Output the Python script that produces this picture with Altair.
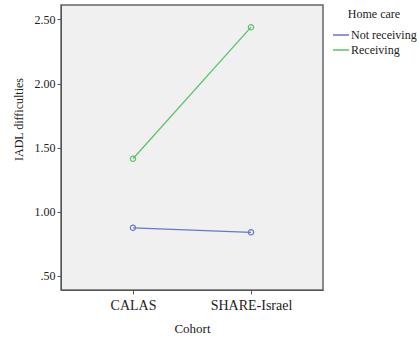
import altair as alt
import pandas as pd

cohorts = ["CALAS", "SHARE-Israel"]
groups = ["Not receiving", "Receiving"]
not_receiving = [0.875, 0.84]
receiving = [1.414, 2.44]
y_ticks = [0.5, 1.0, 1.5, 2.0, 2.5]

rows = []
for c, v in zip(cohorts, not_receiving):
    rows.append({"Cohort": c, "Home care": groups[0], "value": v})
for c, v in zip(cohorts, receiving):
    rows.append({"Cohort": c, "Home care": groups[1], "value": v})
df = pd.DataFrame(rows)

FONT = "Liberation Serif"
colors = ["#6677cc", "#5cc46c"]

x = alt.X("Cohort:N", sort=cohorts,
          scale=alt.Scale(type="point", padding=0.61),
          axis=alt.Axis(title="Cohort", labelAngle=0, labelFontSize=14,
                        titleFontSize=13, titleFontWeight="normal",
                        labelPadding=4, titlePadding=10, tickSize=4,
                        domainColor="#555555", tickColor="#555555",
                        labelColor="#222222", titleColor="#222222",
                        labelFont=FONT, titleFont=FONT, grid=False))
y = alt.Y("value:Q",
          scale=alt.Scale(domain=[0.39, 2.613], nice=False, zero=False),
          axis=alt.Axis(title="IADL  difficulties", values=y_ticks,
                        labelExpr="datum.value < 1 ? slice(format(datum.value, '.2f'), 1) : format(datum.value, '.2f')",
                        labelFontSize=12, titleFontSize=12, titleFontWeight="normal",
                        tickSize=4, domainColor="#555555", tickColor="#555555",
                        labelColor="#222222", titleColor="#222222",
                        labelFont=FONT, titleFont=FONT, grid=False,
                        titleX=-43, titleY=114, titleBaseline="middle"))
color = alt.Color("Home care:N", sort=groups,
                  scale=alt.Scale(domain=groups, range=colors),
                  legend=alt.Legend(orient="none", legendX=271, legendY=4,
                                    symbolType="stroke", symbolSize=256,
                                    symbolStrokeWidth=1.5, titleFont=FONT,
                                    labelFont=FONT, titleFontSize=12,
                                    titleFontWeight="normal", labelFontSize=12,
                                    titleAnchor="middle", titlePadding=5,
                                    rowPadding=0, labelOffset=1,
                                    labelColor="#222222", titleColor="#222222"))

base = alt.Chart(df).encode(x=x, y=y, color=color)
lines = base.mark_line(strokeWidth=1.3)
points = base.mark_point(shape="circle", size=28, filled=False, strokeWidth=1.2, opacity=1)

chart = (lines + points).properties(
    width=262, height=285,
    padding={"left": 61, "top": 5, "right": 94, "bottom": 55},
    autosize=alt.AutoSizeParams(type="none"),
    background="white",
).configure(font=FONT).configure_view(fill="#f0f0f0", stroke="#666666", strokeWidth=1.5)

chart.save("out.html", embed_options={"renderer": "svg", "actions": False})
